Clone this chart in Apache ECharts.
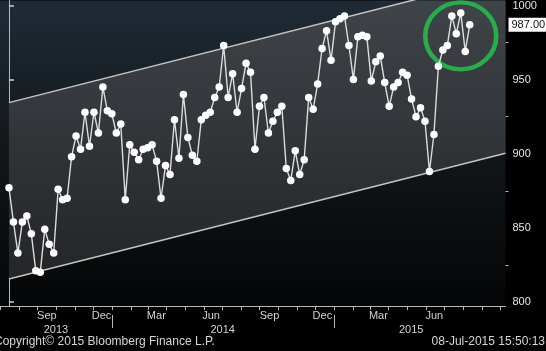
<!DOCTYPE html>
<html>
<head>
<meta charset="utf-8">
<script src="https://cdn.jsdelivr.net/npm/echarts@6/dist/echarts.min.js"></script>
<style>
html,body{margin:0;padding:0;background:#000;}
#chart{width:546px;height:351px;}
</style>
</head>
<body>
<div id="chart"></div>
<script>
// ---- data ----
const weeklyValues = [
  877, 854, 833, 854, 858, 846, 821, 820, 849, 839,
  833, 876, 869, 870, 898, 912, 903, 928, 905, 928,
  914, 945, 929, 927, 914, 920, 869, 906, 901, 896,
  903, 904, 906, 895, 870, 892, 886, 923, 897, 940,
  911, 899, 895, 923, 926, 928, 938, 945, 973, 938,
  954, 928, 944, 961, 955, 903, 932, 938, 914, 922,
  928, 932, 890, 882, 902, 886, 896, 938, 930, 947,
  971, 983, 963, 989, 991, 993, 973, 950, 979, 980,
  979, 949, 962, 966, 948, 932, 945, 948, 955, 953,
  937, 925, 931, 922, 888, 913, 959, 970, 973, 993,
  981, 995, 969, 987
];
const channelIndex = [0, 111];
const upperChannel = [934.5, 1019.4];
const lowerChannel = [815.5, 900.4];
const lastValue = 987;
const highlightCenter = [101, 979.5];

const yTickValues = [800, 850, 900, 950, 1000];
const yMinorTickValues = [825, 875, 925, 975];

const monthTickDates = [
  '2013-07-01','2013-08-01','2013-09-01','2013-10-01','2013-11-01','2013-12-01',
  '2014-01-01','2014-02-01','2014-03-01','2014-04-01','2014-05-01','2014-06-01',
  '2014-07-01','2014-08-01','2014-09-01','2014-10-01','2014-11-01','2014-12-01',
  '2015-01-01','2015-02-01','2015-03-01','2015-04-01','2015-05-01','2015-06-01',
  '2015-07-01','2015-08-01','2015-09-01','2015-10-01'
];
const monthLabelDates = ['2013-09-16','2013-12-15','2014-03-15','2014-06-13','2014-09-17','2014-12-13','2015-03-15','2015-06-15'];
const monthLabels = ['Sep','Dec','Mar','Jun','Sep','Dec','Mar','Jun'];
const yearLabelDates = ['2013-10-01','2014-07-02','2015-05-08'];
const yearLabels = ['2013','2014','2015'];
const yearBoundaryDates = ['2014-01-01','2015-01-01'];
const timeRange = ['2013-07-01','2015-10-10'];

const footerLeft = 'Copyright\u00a9 2015 Bloomberg Finance L.P.';
const footerRight = '08-Jul-2015 15:50:13';

// ---- helpers ----
const ts = s => Date.UTC(+s.slice(0,4), +s.slice(5,7) - 1, +s.slice(8,10));
const FONT = 'Liberation Sans';
const monthLabelTs = monthLabelDates.map(ts);
const yearLabelTs = yearLabelDates.map(ts);
const labelFrom = (vals, labels) => v => {
  let best = -1, bd = Infinity;
  vals.forEach((t, i) => { const d = Math.abs(t - v); if (d < bd) { bd = d; best = i; } });
  return bd < 86400000 ? labels[best] : '';
};

const chart = echarts.init(document.getElementById('chart'), null, {renderer: 'canvas'});

const option = {
  backgroundColor: '#000',
  animation: false,
  title: [
    {text: footerLeft, left: -6, top: 336, padding: 0,
     textStyle: {color: '#d6d6d6', fontSize: 12, fontWeight: 'normal', fontFamily: FONT}},
    {text: footerRight, right: 1, top: 336, padding: 0,
     textStyle: {color: '#d6d6d6', fontSize: 12, fontWeight: 'normal', fontFamily: FONT}}
  ],
  grid: {
    left: 0, top: 0, right: 40.5, bottom: 45,
    show: true, borderWidth: 0,
    backgroundColor: new echarts.graphic.LinearGradient(0, 0, 0, 1, [
      {offset: 0, color: '#1f2b36'},
      {offset: 0.5, color: '#121619'},
      {offset: 1, color: '#040506'}
    ])
  },
  xAxis: [
    {type: 'value', min: -2, max: 111, show: false},
    {type: 'value', min: ts(timeRange[0]), max: ts(timeRange[1]), position: 'bottom',
     axisLine: {show: true, lineStyle: {color: '#b8b8b8', width: 1}},
     axisTick: {show: true, customValues: monthTickDates.map(ts), length: 4, inside: false,
                lineStyle: {color: '#b8b8b8'}},
     axisLabel: {show: true, customValues: monthLabelTs, margin: 4,
                 color: '#d2d2d2', fontSize: 11, fontFamily: FONT,
                 formatter: labelFrom(monthLabelTs, monthLabels)},
     splitLine: {show: false}},
    {type: 'value', min: ts(timeRange[0]), max: ts(timeRange[1]), position: 'bottom', offset: 9,
     axisLine: {show: false},
     axisTick: {show: true, customValues: yearBoundaryDates.map(ts), length: 13, inside: false,
                lineStyle: {color: '#b8b8b8'}},
     axisLabel: {show: true, customValues: yearLabelTs, margin: 9,
                 color: '#d2d2d2', fontSize: 11, fontFamily: FONT,
                 formatter: labelFrom(yearLabelTs, yearLabels)},
     splitLine: {show: false}}
  ],
  yAxis: [
    {type: 'value', position: 'right', min: 797.3, max: 1003.4,
     axisLine: {show: true, lineStyle: {color: '#b8b8b8', width: 1}},
     axisTick: {show: true, customValues: yTickValues, length: 5, inside: false,
                lineStyle: {color: '#d0d0d0', width: 1.5}},
     axisLabel: {show: true, customValues: yTickValues, margin: 7,
                 color: '#e4e4e4', fontSize: 11, fontFamily: FONT,
                 formatter: v => String(Math.round(v))},
     splitLine: {show: false}},
    {type: 'value', position: 'right', min: 797.3, max: 1003.4,
     axisLine: {show: false},
     axisTick: {show: true, customValues: yMinorTickValues, length: 3, inside: false,
                lineStyle: {color: '#b8b8b8'}},
     axisLabel: {show: false},
     splitLine: {show: false}}
  ],
  series: [
    {
      type: 'custom', xAxisIndex: 0, yAxisIndex: 0, clip: true, silent: true, z: 1,
      data: [0],
      renderItem: (params, api) => {
        const pts = [
          api.coord([channelIndex[0], lowerChannel[0]]),
          api.coord([channelIndex[0], upperChannel[0]]),
          api.coord([channelIndex[1], upperChannel[1]]),
          api.coord([channelIndex[1], lowerChannel[1]])
        ];
        return {
          type: 'polygon',
          shape: {points: pts},
          style: {
            fill: new echarts.graphic.LinearGradient(0, 0, 0, 1, [
              {offset: 0, color: '#42474c'},
              {offset: 0.45, color: '#34373b'},
              {offset: 1, color: '#232527'}
            ])
          }
        };
      }
    },
    {
      type: 'line', xAxisIndex: 0, yAxisIndex: 0, z: 2, silent: true,
      data: channelIndex.map((x, i) => [x, upperChannel[i]]),
      symbol: 'none', lineStyle: {color: '#c4c4c4', width: 1.5}
    },
    {
      type: 'line', xAxisIndex: 0, yAxisIndex: 0, z: 2, silent: true,
      data: channelIndex.map((x, i) => [x, lowerChannel[i]]),
      symbol: 'none', lineStyle: {color: '#c4c4c4', width: 1.5}
    },
    {
      type: 'line', xAxisIndex: 0, yAxisIndex: 0, z: 5,
      data: weeklyValues.map((v, i) => [i, v]),
      symbol: 'circle', symbolSize: 7.5, showSymbol: true,
      lineStyle: {color: '#dcdcdc', width: 1.4},
      itemStyle: {color: '#ffffff'},
      markLine: {
        silent: true, symbol: ['none', 'none'],
        lineStyle: {color: 'rgba(0,0,0,0)', width: 0},
        data: [{yAxis: lastValue}],
        label: {show: true, position: 'end', distance: 3,
                formatter: lastValue.toFixed(2),
                backgroundColor: '#ffffff', color: '#111', fontSize: 11, fontFamily: FONT,
                padding: [2, 3, 1, 3]}
      },
      markPoint: {
        silent: true, symbol: 'circle', symbolSize: [71, 67],
        data: [{coord: highlightCenter}],
        itemStyle: {color: 'rgba(0,0,0,0)', borderColor: '#27ae4a', borderWidth: 4.5},
        label: {show: false}
      }
    }
  ]
};
chart.setOption(option);
</script>
</body>
</html>
